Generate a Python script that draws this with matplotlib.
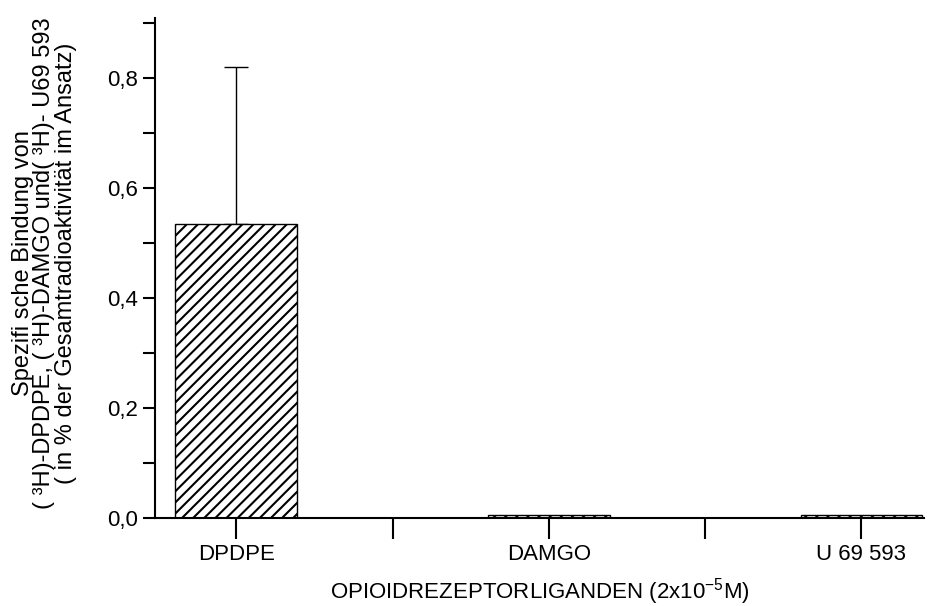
import matplotlib
matplotlib.use("Agg")
import matplotlib.pyplot as plt
from matplotlib.ticker import MultipleLocator, FixedLocator, FuncFormatter

plt.rcParams['font.family'] = ['Liberation Sans', 'DejaVu Sans']
plt.rcParams['mathtext.fontset'] = 'custom'
plt.rcParams['mathtext.rm'] = 'Liberation Sans'
plt.rcParams['hatch.linewidth'] = 1.5

categories = ["DPDPE", "DAMGO", "U 69 593"]
values = [0.535, 0.006, 0.006]
errors_upper = [0.285, 0.0, 0.0]

fig = plt.figure(figsize=(9.30, 6.06), dpi=100)
ax = fig.add_axes([155/930, 1-518/606, (924-155)/930, (518-18)/606])

x = list(range(len(categories)))
ax.bar(x, values, width=0.39, color='white', edgecolor='black', hatch='///', linewidth=1.0, zorder=2)
ax.errorbar([x[0]], [values[0]], yerr=[[0], [errors_upper[0]]], fmt='none', ecolor='black',
            elinewidth=1.0, capsize=8.5, capthick=1.0, zorder=1)

ax.set_xlim(-0.26, 2.2)
ax.set_ylim(0, 0.909)

ax.spines['top'].set_visible(False)
ax.spines['right'].set_visible(False)
ax.spines['left'].set_linewidth(1.5)
ax.spines['bottom'].set_linewidth(1.5)

ax.set_xticks(x)
ax.set_xticklabels(categories)
ax.xaxis.set_minor_locator(FixedLocator([0.5, 1.5]))
ax.yaxis.set_major_locator(MultipleLocator(0.2))
ax.yaxis.set_minor_locator(MultipleLocator(0.1))
ax.yaxis.set_major_formatter(FuncFormatter(lambda v, p: f"{v:.1f}".replace('.', ',')))

ax.tick_params(axis='x', which='both', direction='out', length=15, width=1.5, labelsize=16, pad=4)
ax.tick_params(axis='y', which='both', direction='out', length=9, width=1.5, labelsize=16, pad=3)

ax.set_xlabel("OPIOIDREZEPTORLIGANDEN (2x10$^{-5}$M)", fontsize=16, labelpad=8)
ax.set_ylabel("Spezifi sche Bindung von\n( ³H)-DPDPE, ( ³H)-DAMGO und( ³H)- U69 593\n( in % der Gesamtradioaktivität im Ansatz)",
              fontsize=17, linespacing=0.95)
ax.yaxis.set_label_coords(-0.102, 0.51)

fig.savefig("out.png", dpi=100)
